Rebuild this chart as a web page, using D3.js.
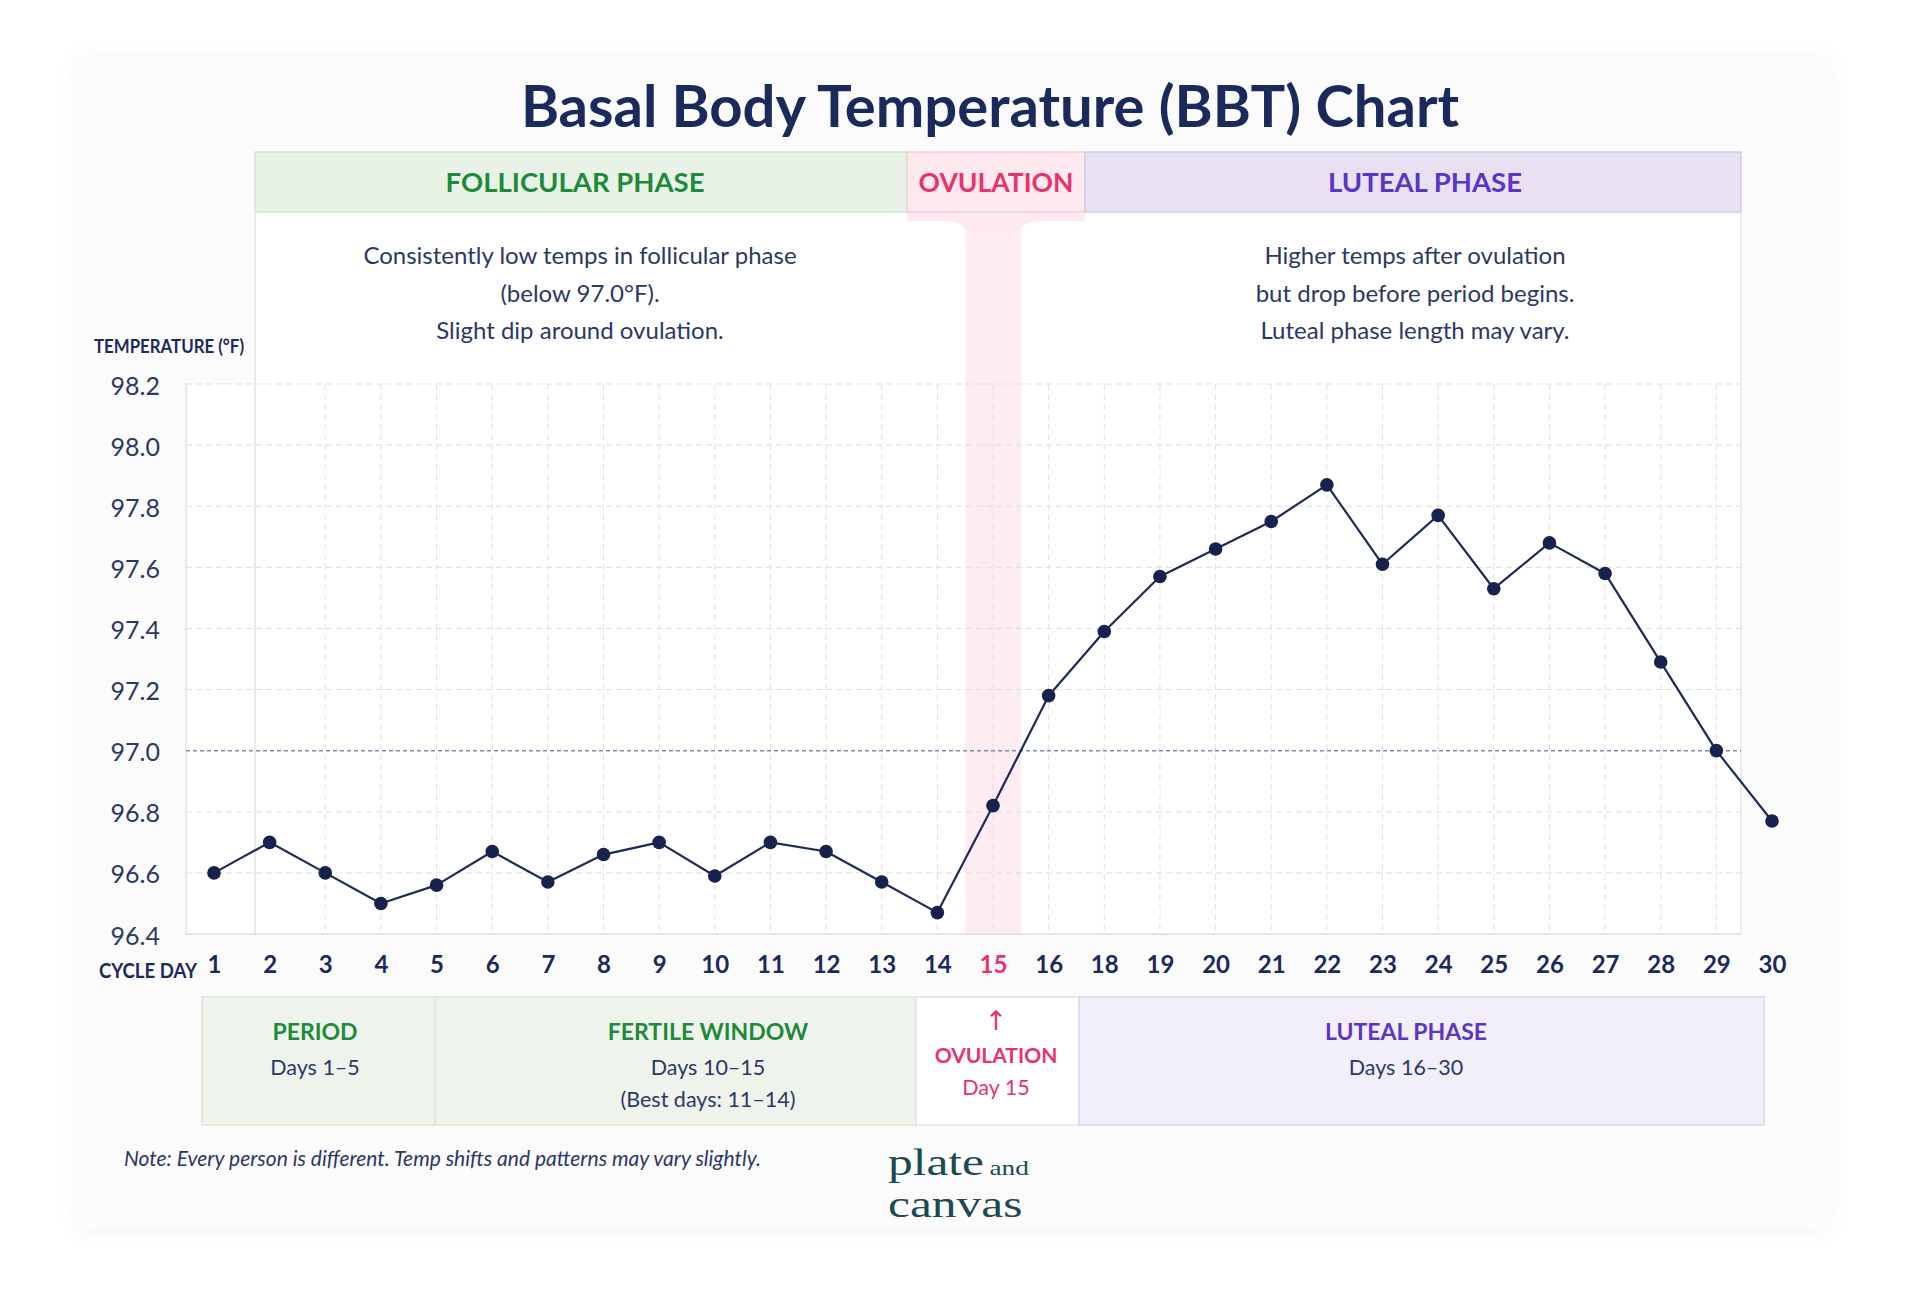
<!DOCTYPE html>
<html>
<head>
<meta charset="utf-8">
<title>Basal Body Temperature (BBT) Chart</title>
<script src="https://cdn.jsdelivr.net/npm/d3@7"></script>
<style>
  body { margin: 0; background: #ffffff; }
  svg text { font-family: Lato, "Open Sans", sans-serif; }
</style>
</head>
<body>
<div id="chart"></div>
<script>
// ---- data ----
const cycleDays = ["1","2","3","4","5","6","7","8","9","10","11","12","13","14","15",
                   "16","18","19","20","21","22","23","24","25","26","27","28","29","30"];
const temps = [96.60, 96.70, 96.60, 96.50, 96.56, 96.67, 96.57, 96.66, 96.70, 96.59,
               96.70, 96.67, 96.57, 96.47, 96.82, 97.18, 97.39, 97.57, 97.66, 97.75,
               97.87, 97.61, 97.77, 97.53, 97.68, 97.58, 97.29, 97.00, 96.77];
const tempTicks = [96.4, 96.6, 96.8, 97.0, 97.2, 97.4, 97.6, 97.8, 98.0, 98.2];
const coverline = 97.0;
const ovulationDay = "15";

const phaseLabels = ["FOLLICULAR PHASE", "OVULATION", "LUTEAL PHASE"];
const phaseNotes = [
  ["Consistently low temps in follicular phase", "(below 97.0°F).", "Slight dip around ovulation."],
  ["Higher temps after ovulation", "but drop before period begins.", "Luteal phase length may vary."]
];
const legendTitles = ["PERIOD", "FERTILE WINDOW", "OVULATION", "LUTEAL PHASE"];
const legendLines = [["Days 1–5"], ["Days 10–15", "(Best days: 11–14)"], ["Day 15"], ["Days 16–30"]];

// ---- layout ----
const W = 1920, H = 1300;
const navy = "#1b2a5c", textNavy = "#2b3866";
const green = "#1f8a3a", pink = "#e8336b", purple = "#5a35c8";
const plot = { left: 186, right: 1741, top: 384, bottom: 934 };
const band = { left: 255, right: 1741, top: 152, bottom: 212 };

const svg = d3.select("#chart").append("svg")
  .attr("width", W)
  .attr("height", H);

// soft card behind everything
const defs = svg.append("defs");
const shadow = defs.append("filter").attr("id", "cardShadow")
  .attr("x", "-5%").attr("y", "-5%").attr("width", "110%").attr("height", "110%");
shadow.append("feDropShadow").attr("dx", 0).attr("dy", 2)
  .attr("stdDeviation", 10).attr("flood-color", "#000").attr("flood-opacity", 0.05);

svg.append("rect")
  .attr("x", 77).attr("y", 57)
  .attr("width", 1751).attr("height", 1172)
  .attr("rx", 6)
  .attr("fill", "#fbfbfb")
  .attr("filter", "url(#cardShadow)");

// Title
svg.append("text")
  .attr("x", 990).attr("y", 127)
  .attr("text-anchor", "middle")
  .style("font-size", "58px")
  .style("font-weight", 700)
  .style("fill", navy)
  .text("Basal Body Temperature (BBT) Chart");

// scales
const x = d3.scalePoint()
  .domain(cycleDays)
  .range([214, 1772]);

const y = d3.scaleLinear()
  .domain([tempTicks[0], tempTicks[tempTicks.length - 1]])
  .range([plot.bottom, plot.top]);

const xOv = x(ovulationDay);
const ovHead = { left: xOv - 86, right: xOv + 92 };

// white panel under the phase band (notes + plot)
svg.append("rect")
  .attr("x", band.left).attr("y", band.bottom)
  .attr("width", band.right - band.left).attr("height", plot.top - band.bottom)
  .attr("fill", "#ffffff");
svg.append("rect")
  .attr("x", plot.left).attr("y", plot.top)
  .attr("width", plot.right - plot.left).attr("height", plot.bottom - plot.top)
  .attr("fill", "#ffffff");

// ovulation strip
svg.append("rect")
  .attr("x", xOv - 28).attr("y", band.bottom)
  .attr("width", 56).attr("height", plot.bottom - band.bottom)
  .attr("fill", "#fde9ee")
  .attr("opacity", 0.85);
// little flared tab under the ovulation header
svg.append("path")
  .attr("d", `M${ovHead.left},${band.bottom} L${ovHead.left},${band.bottom + 9}
              L${xOv - 50},${band.bottom + 9} Q${xOv - 30},${band.bottom + 9} ${xOv - 28},${band.bottom + 18}
              L${xOv + 28},${band.bottom + 18} Q${xOv + 30},${band.bottom + 9} ${xOv + 52},${band.bottom + 9}
              L${ovHead.right},${band.bottom + 9} L${ovHead.right},${band.bottom} Z`)
  .attr("fill", "#fde9ee");

// grid
const grid = svg.append("g").attr("class", "grid");
grid.selectAll("line.h")
  .data(tempTicks.filter(t => t !== coverline && t !== tempTicks[0]))
  .join("line")
  .attr("class", "h")
  .attr("x1", plot.left).attr("x2", plot.right)
  .attr("y1", d => y(d)).attr("y2", d => y(d))
  .attr("stroke", "#dedede")
  .attr("stroke-width", 1)
  .attr("stroke-dasharray", "6,4");

grid.selectAll("line.v")
  .data(cycleDays.slice(2, -1))
  .join("line")
  .attr("class", "v")
  .attr("x1", d => x(d)).attr("x2", d => x(d))
  .attr("y1", plot.top).attr("y2", plot.bottom)
  .attr("stroke", "#e2e2e2")
  .attr("stroke-width", 1)
  .attr("stroke-dasharray", "6,4");

// frame lines
svg.append("line")
  .attr("x1", band.left).attr("x2", band.left)
  .attr("y1", band.bottom).attr("y2", plot.bottom)
  .attr("stroke", "#e3e3e3").attr("stroke-width", 1.5);
svg.append("line")
  .attr("x1", band.right).attr("x2", band.right)
  .attr("y1", band.bottom).attr("y2", plot.bottom)
  .attr("stroke", "#e6e6e6").attr("stroke-width", 1.5);
svg.append("line")
  .attr("x1", plot.left).attr("x2", plot.left)
  .attr("y1", plot.top).attr("y2", plot.bottom)
  .attr("stroke", "#e3e3e3").attr("stroke-width", 1.5);
svg.append("line")
  .attr("x1", plot.left).attr("x2", plot.right)
  .attr("y1", plot.bottom).attr("y2", plot.bottom)
  .attr("stroke", "#dcdcdc").attr("stroke-width", 1.5);

// 97.0 coverline
svg.append("line")
  .attr("x1", plot.left).attr("x2", plot.right)
  .attr("y1", y(coverline)).attr("y2", y(coverline))
  .attr("stroke", "#8388ad")
  .attr("stroke-width", 1.5)
  .attr("stroke-dasharray", "4,3");

// phase band on top
const phaseBoxes = [
  { x0: band.left, x1: ovHead.left, tx: 575, fill: "#e9f2e7", stroke: "#d3e5d1", color: green },
  { x0: ovHead.left, x1: ovHead.right, tx: xOv + 3, fill: "#fde9ee", stroke: "#f7cbd7", color: pink },
  { x0: ovHead.right, x1: band.right, tx: 1425, fill: "#e8e1f2", stroke: "#d4c9ec", color: purple }
];
const phaseG = svg.selectAll("g.phase")
  .data(phaseBoxes)
  .join("g")
  .attr("class", "phase");
phaseG.append("rect")
  .attr("x", d => d.x0).attr("y", band.top)
  .attr("width", d => d.x1 - d.x0).attr("height", band.bottom - band.top)
  .attr("fill", d => d.fill)
  .attr("stroke", d => d.stroke)
  .attr("stroke-width", 1.5);
phaseG.append("text")
  .attr("x", d => d.tx)
  .attr("y", (band.top + band.bottom) / 2)
  .attr("dy", "0.36em")
  .attr("text-anchor", "middle")
  .style("font-size", (d, i) => i === 1 ? "26.5px" : "27.5px")
  .style("font-weight", 700)
  .style("fill", d => d.color)
  .text((d, i) => phaseLabels[i]);

// notes under the band
const noteCenters = [580, 1415];
phaseNotes.forEach((lines, k) => {
  svg.append("g").selectAll("text")
    .data(lines)
    .join("text")
    .attr("x", noteCenters[k])
    .attr("y", (d, i) => 256 + i * 37.5)
    .attr("dy", "0.35em")
    .attr("text-anchor", "middle")
    .style("font-size", "24px")
    .style("fill", textNavy)
    .text(d => d);
});

// axes
const yAxis = svg.append("g")
  .attr("transform", `translate(${plot.left},0)`)
  .call(d3.axisLeft(y).tickValues(tempTicks).tickFormat(d3.format(".1f")).tickSize(0).tickPadding(26));
yAxis.select(".domain").remove();
yAxis.selectAll("text")
  .attr("dy", "0.4em")
  .style("font-family", "Lato, sans-serif")
  .style("font-size", "25px")
  .style("fill", textNavy);

const xAxis = svg.append("g")
  .attr("transform", `translate(0,${plot.bottom})`)
  .call(d3.axisBottom(x).tickSize(0).tickPadding(22));
xAxis.select(".domain").remove();
xAxis.selectAll("text")
  .style("font-family", "Lato, sans-serif")
  .style("font-size", "24px")
  .style("font-weight", 700)
  .style("fill", d => d === ovulationDay ? pink : navy);

svg.append("text")
  .attr("x", 94).attr("y", 346)
  .attr("dy", "0.35em")
  .attr("textLength", 150)
  .attr("lengthAdjust", "spacingAndGlyphs")
  .style("font-size", "19px")
  .style("font-weight", 700)
  .style("fill", navy)
  .text("TEMPERATURE (°F)");

svg.append("text")
  .attr("x", 99).attr("y", 971)
  .attr("dy", "0.35em")
  .attr("textLength", 98)
  .attr("lengthAdjust", "spacingAndGlyphs")
  .style("font-size", "20px")
  .style("font-weight", 700)
  .style("fill", navy)
  .text("CYCLE DAY");

// temperature line + points
const line = d3.line()
  .x((d, i) => x(cycleDays[i]))
  .y(d => y(d));

svg.append("path")
  .datum(temps)
  .attr("d", line)
  .attr("fill", "none")
  .attr("stroke", "#1d2b58")
  .attr("stroke-width", 2.2)
  .attr("stroke-linejoin", "round");

svg.append("g").selectAll("circle")
  .data(temps)
  .join("circle")
  .attr("cx", (d, i) => x(cycleDays[i]))
  .attr("cy", d => y(d))
  .attr("r", 6.8)
  .attr("fill", "#15234d");

// bottom legend boxes
const legendTop = 997, legendBottom = 1125;
const legendBoxes = [
  { x0: 202, x1: 435, tx: 315, fill: "#eef4ec", stroke: "#dbe6d9", color: green, body: textNavy },
  { x0: 435, x1: 916, tx: 708, fill: "#eef4ec", stroke: "#dbe6d9", color: green, body: textNavy },
  { x0: 916, x1: 1079, tx: 996, fill: "#ffffff", stroke: "#e4e4e4", color: pink, body: pink },
  { x0: 1079, x1: 1764, tx: 1406, fill: "#f3effa", stroke: "#ddd5f0", color: purple, body: textNavy }
];
const legG = svg.selectAll("g.legendBox")
  .data(legendBoxes)
  .join("g")
  .attr("class", "legendBox");
legG.append("rect")
  .attr("x", d => d.x0).attr("y", legendTop)
  .attr("width", d => d.x1 - d.x0).attr("height", legendBottom - legendTop)
  .attr("fill", d => d.fill)
  .attr("stroke", d => d.stroke)
  .attr("stroke-width", 1.5);
legG.append("text")
  .attr("x", d => d.tx)
  .attr("y", (d, i) => i === 2 ? 1056 : 1032)
  .attr("dy", "0.35em")
  .attr("text-anchor", "middle")
  .style("font-size", (d, i) => i === 2 ? "21px" : "23px")
  .style("font-weight", 700)
  .style("fill", d => d.color)
  .text((d, i) => legendTitles[i]);
legG.each(function (d, i) {
  d3.select(this).selectAll("text.body")
    .data(legendLines[i])
    .join("text")
    .attr("class", "body")
    .attr("x", d.tx)
    .attr("y", (t, j) => (i === 2 ? 1087 : 1067) + j * 32)
    .attr("dy", "0.35em")
    .attr("text-anchor", "middle")
    .style("font-size", "21.5px")
    .style("fill", d.body)
    .text(t => t);
});
// arrow above the ovulation legend entry
svg.append("text")
  .attr("x", legendBoxes[2].tx)
  .attr("y", 1021)
  .attr("dy", "0.35em")
  .attr("text-anchor", "middle")
  .style("font-family", "DejaVu Sans, sans-serif")
  .style("font-size", "27px")
  .style("fill", pink)
  .text("↑");

// footnote
svg.append("text")
  .attr("x", 124).attr("y", 1159)
  .attr("dy", "0.35em")
  .style("font-size", "21px")
  .style("font-style", "italic")
  .style("fill", textNavy)
  .text("Note: Every person is different. Temp shifts and patterns may vary slightly.");

// logo: stacked logotype, widened like the original serif
const logoFont = "'Liberation Serif', 'DejaVu Serif', serif";
const logo = svg.append("g")
  .attr("transform", "translate(888,0) scale(1.3,1)");
const logoParts = [
  { t: "plate", x: 0, y: 1175, size: 38 },
  { t: "and", x: 78, y: 1175, size: 21 },
  { t: "canvas", x: 0, y: 1217, size: 38 }
];
logo.selectAll("text")
  .data(logoParts)
  .join("text")
  .attr("x", d => d.x).attr("y", d => d.y)
  .style("font-family", logoFont)
  .style("font-size", d => d.size + "px")
  .style("fill", "#1b4a52")
  .text(d => d.t);
</script>
</body>
</html>
